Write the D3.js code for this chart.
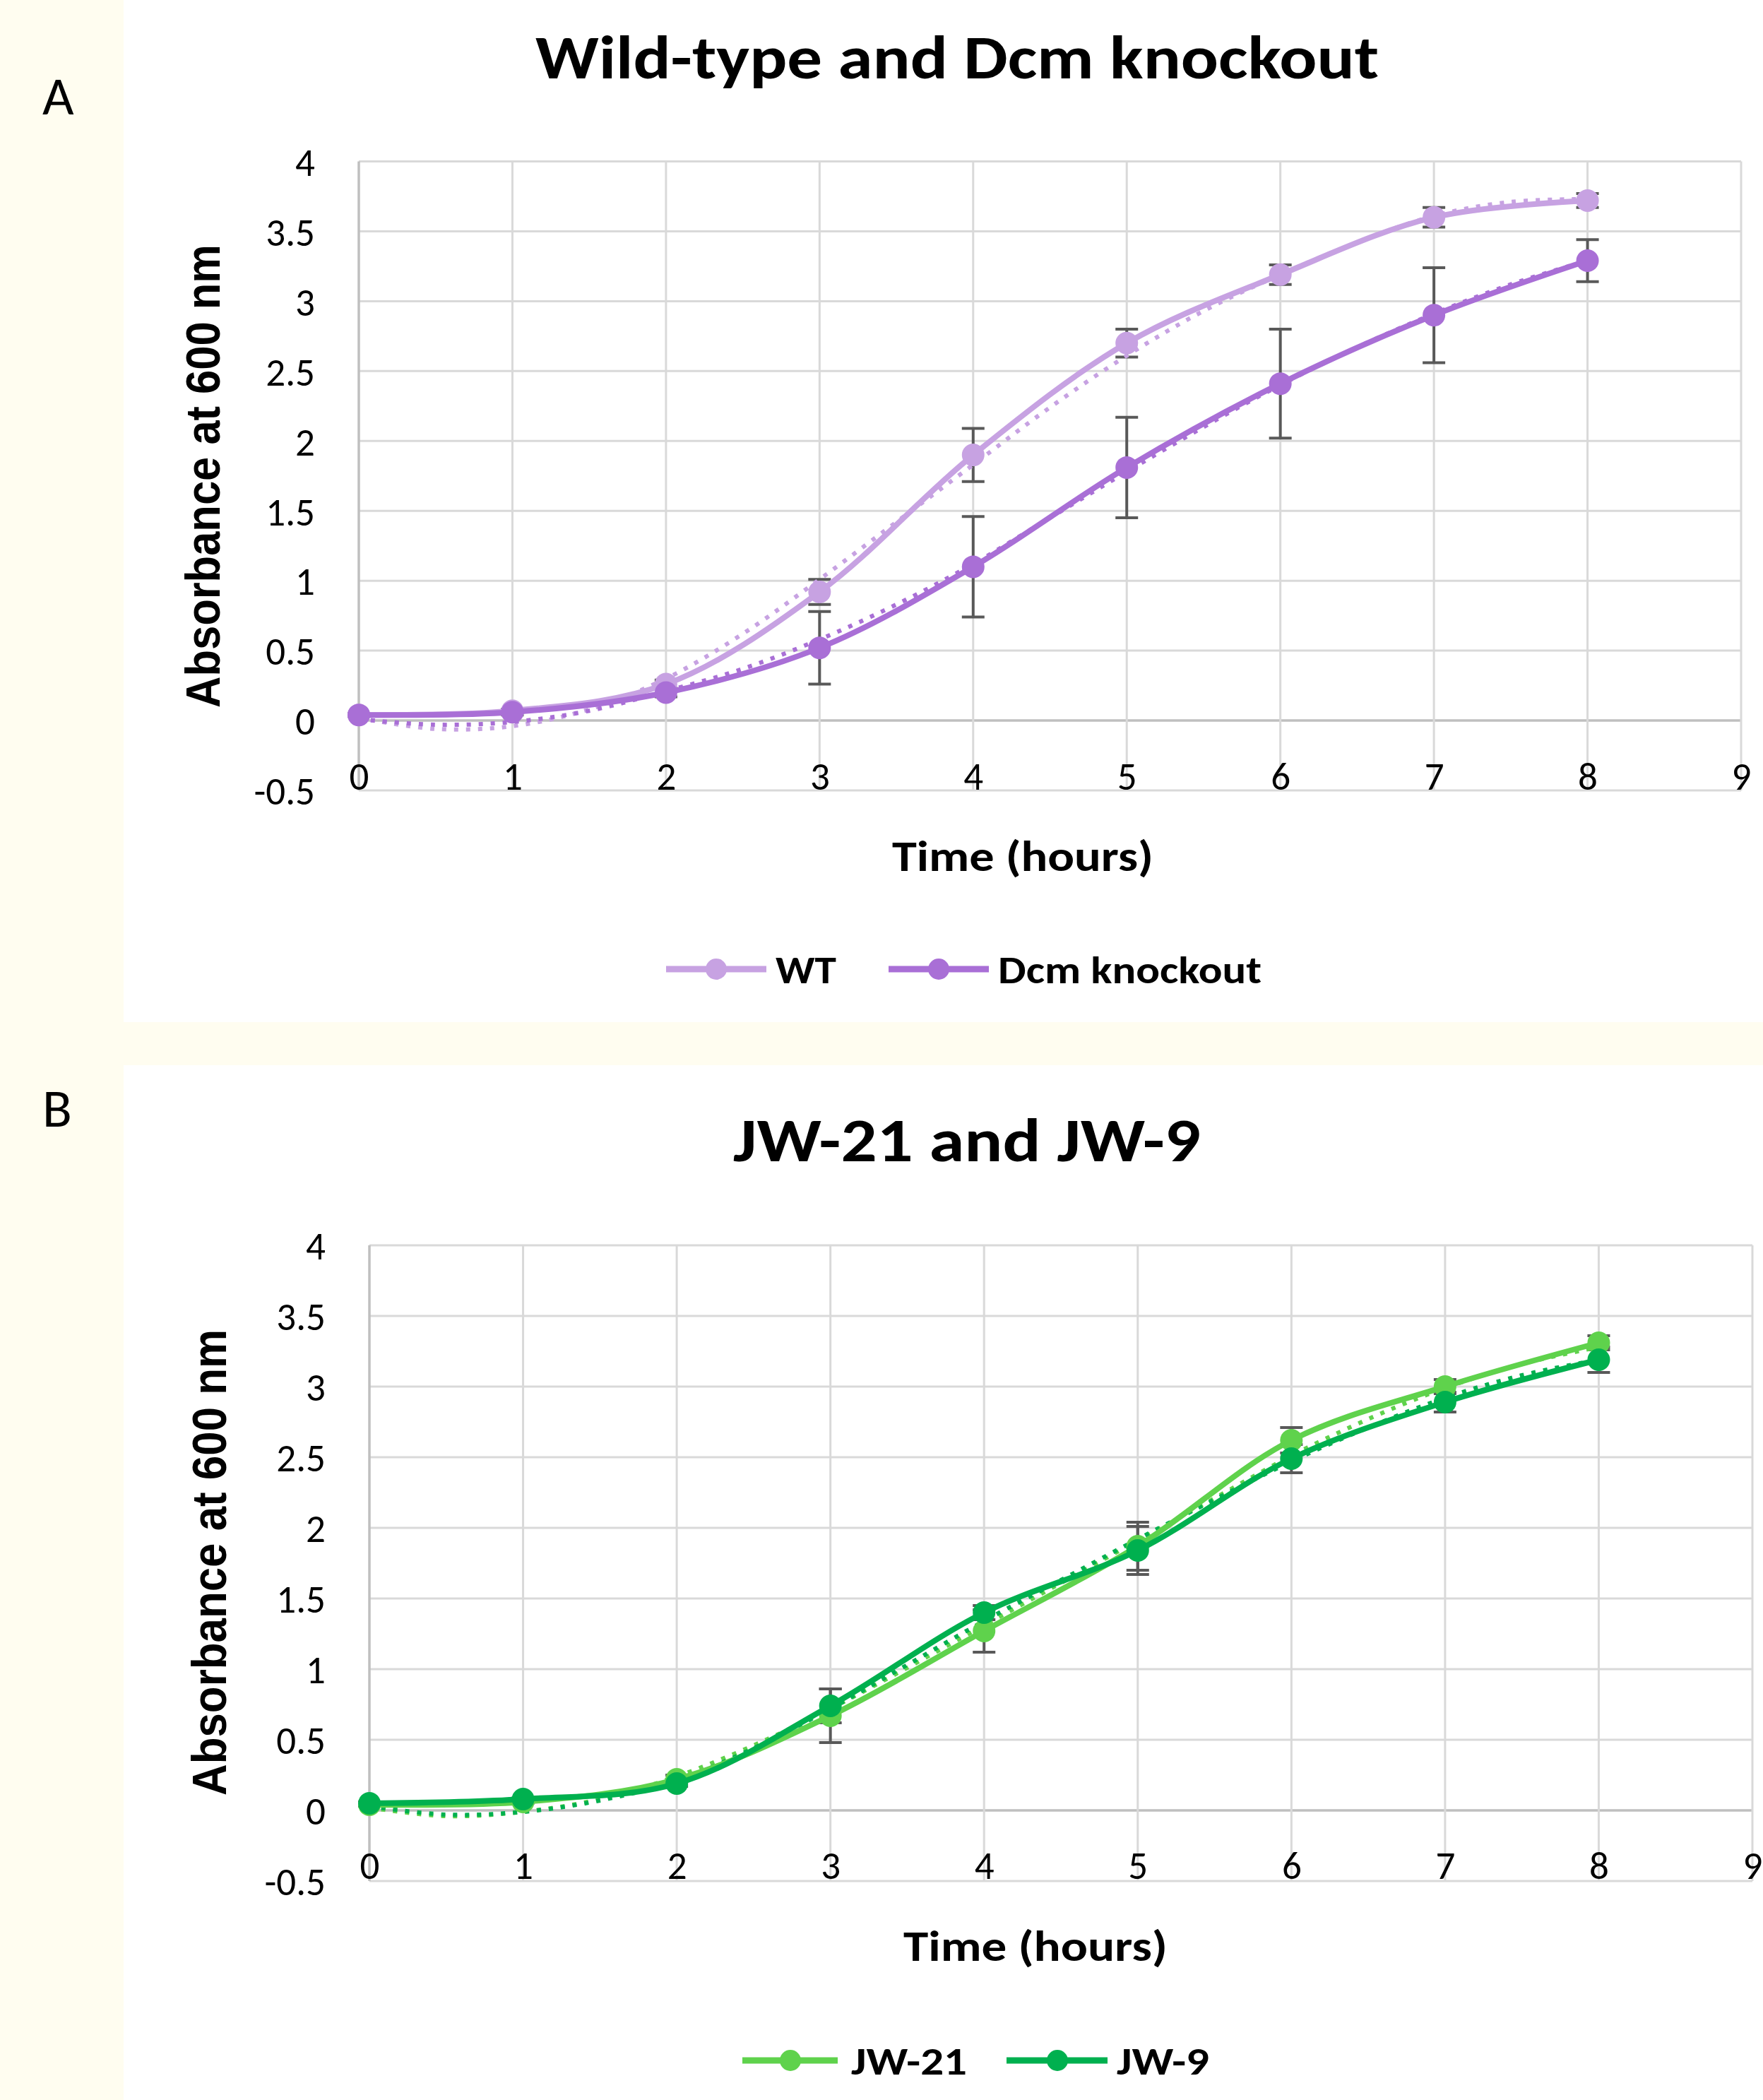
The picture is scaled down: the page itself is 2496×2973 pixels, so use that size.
<!DOCTYPE html>
<html><head><meta charset="utf-8">
<script src="https://cdn.jsdelivr.net/npm/d3@7"></script>
<style>html,body{margin:0;padding:0;background:#FFFDF0;} svg{display:block;}</style>
</head><body>
<svg id="chart" width="2496" height="2973"></svg>
<script>
// ---------------- DATA ----------------
const hours = [0, 1, 2, 3, 4, 5, 6, 7, 8];
const trendHours = [0, 0.5, 1, 1.5, 2, 2.5, 3, 3.5, 4, 4.5, 5, 5.5, 6, 6.5, 7, 7.5, 8];
const xTickValues = [0, 1, 2, 3, 4, 5, 6, 7, 8, 9];
const yTickValues = [-0.5, 0, 0.5, 1, 1.5, 2, 2.5, 3, 3.5, 4];

const panelLetters = ["A", "B"];
const panelTitles = ["Wild-type and Dcm knockout", "JW-21 and JW-9"];
const yAxisTitle = "Absorbance at 600 nm";
const xAxisTitle = "Time (hours)";
const seriesNamesA = ["WT", "Dcm knockout"];
const seriesNamesB = ["JW-21", "JW-9"];

const wtValues  = [0.04, 0.07, 0.26, 0.92, 1.90, 2.70, 3.19, 3.60, 3.72];
const wtErrors  = [0.01, 0.01, 0.03, 0.09, 0.19, 0.10, 0.07, 0.07, 0.05];
const wtTrend   = [0.02, -0.06, -0.04, 0.08, 0.30, 0.62, 1.01, 1.42, 1.83, 2.24, 2.61, 2.93, 3.19, 3.42, 3.61, 3.71, 3.73];

const dcmValues = [0.04, 0.06, 0.20, 0.52, 1.10, 1.81, 2.41, 2.90, 3.29];
const dcmErrors = [0.01, 0.02, 0.03, 0.26, 0.36, 0.36, 0.39, 0.34, 0.15];
const dcmTrend  = [0.01, -0.03, -0.01, 0.07, 0.21, 0.37, 0.58, 0.83, 1.12, 1.45, 1.78, 2.10, 2.40, 2.67, 2.91, 3.12, 3.29];

const jw21Values = [0.04, 0.06, 0.22, 0.67, 1.27, 1.87, 2.62, 3.00, 3.31];
const jw21Errors = [0.01, 0.01, 0.03, 0.19, 0.15, 0.17, 0.09, 0.05, 0.05];
const jw21Trend  = [0.02, -0.04, -0.01, 0.08, 0.24, 0.46, 0.72, 1.01, 1.31, 1.61, 1.91, 2.21, 2.51, 2.77, 2.99, 3.16, 3.28];

const jw9Values = [0.05, 0.08, 0.19, 0.74, 1.40, 1.84, 2.49, 2.89, 3.19];
const jw9Errors = [0.01, 0.01, 0.02, 0.12, 0.05, 0.17, 0.10, 0.07, 0.09];
const jw9Trend  = [0.03, -0.03, -0.01, 0.07, 0.21, 0.44, 0.72, 1.03, 1.34, 1.63, 1.92, 2.20, 2.47, 2.71, 2.92, 3.08, 3.19];

// ---------------- STYLE / LAYOUT ----------------
const FONT = "Carlito, Lato, 'Open Sans', sans-serif";
const LABEL_FONT = "'Liberation Sans', Arial, sans-serif";
const colors = { wt: "#C7A2E2", dcm: "#A96FD6", jw21: "#5FD24C", jw9: "#00B04F" };

const svg = d3.select("#chart");
svg.append("rect").attr("x", 0).attr("y", 0).attr("width", 2496).attr("height", 2973).attr("fill", "#FFFDF0");
svg.append("rect").attr("x", 175).attr("y", 0).attr("width", 2321).attr("height", 1447).attr("fill", "#FFFFFF");
svg.append("rect").attr("x", 175).attr("y", 1508).attr("width", 2321).attr("height", 1465).attr("fill", "#FFFFFF");

const panels = [
  {
    letter: panelLetters[0], letterX: 60, letterY: 162,
    title: panelTitles[0], titleX: 1355, titleY: 111, titleW: 1194,
    x0: 508, x9: 2465, yTop: 228.5, yBot: 1119,
    yLabX: 311, yLabY: 674, yLabW: 656,
    yTickX: 446, xTickY: 1118,
    xTitleX: 1448, xTitleY: 1233, xTitleW: 370,
    legendY: 1372,
    legend: [
      { lx1: 943, lx2: 1085, mx: 1014, tx: 1098, tw: 86 },
      { lx1: 1258, lx2: 1400, mx: 1329, tx: 1413, tw: 373 }
    ],
    series: [
      { name: seriesNamesA[0], values: wtValues, errors: wtErrors, trend: wtTrend, color: colors.wt },
      { name: seriesNamesA[1], values: dcmValues, errors: dcmErrors, trend: dcmTrend, color: colors.dcm }
    ]
  },
  {
    letter: panelLetters[1], letterX: 60, letterY: 1595,
    title: panelTitles[1], titleX: 1369, titleY: 1644, titleW: 662,
    x0: 523, x9: 2481, yTop: 1763, yBot: 2663,
    yLabX: 320, yLabY: 2212, yLabW: 660,
    yTickX: 461, xTickY: 2660,
    xTitleX: 1466, xTitleY: 2776, xTitleW: 374,
    legendY: 2917,
    legend: [
      { lx1: 1051, lx2: 1186, mx: 1119, tx: 1205, tw: 164 },
      { lx1: 1425, lx2: 1568, mx: 1497, tx: 1581, tw: 131 }
    ],
    series: [
      { name: seriesNamesB[0], values: jw21Values, errors: jw21Errors, trend: jw21Trend, color: colors.jw21 },
      { name: seriesNamesB[1], values: jw9Values, errors: jw9Errors, trend: jw9Trend, color: colors.jw9 }
    ]
  }
];

function drawPanel(p) {
  const g = svg.append("g");
  const x = d3.scaleLinear().domain([0, 9]).range([p.x0, p.x9]);
  const y = d3.scaleLinear().domain([-0.5, 4]).range([p.yBot, p.yTop]);

  g.append("text").attr("x", p.letterX).attr("y", p.letterY)
    .attr("font-family", FONT).attr("font-size", 77).attr("fill", "#000").text(p.letter);

  g.append("text").attr("x", p.titleX).attr("y", p.titleY).attr("text-anchor", "middle")
    .attr("font-family", FONT).attr("font-weight", "bold").attr("font-size", 87).attr("fill", "#000")
    .attr("textLength", p.titleW).attr("lengthAdjust", "spacingAndGlyphs").text(p.title);

  g.append("g").selectAll("line").data(yTickValues).join("line")
    .attr("x1", x(0)).attr("x2", x(9)).attr("y1", d => y(d)).attr("y2", d => y(d))
    .attr("stroke", d => d === 0 ? "#BFBFBF" : "#D9D9D9").attr("stroke-width", d => d === 0 ? 3.5 : 3);
  g.append("g").selectAll("line").data(xTickValues).join("line")
    .attr("x1", d => x(d)).attr("x2", d => x(d)).attr("y1", y(4)).attr("y2", y(-0.5))
    .attr("stroke", d => d === 0 ? "#BFBFBF" : "#D9D9D9").attr("stroke-width", d => d === 0 ? 3.5 : 3);

  const yAxis = d3.axisLeft(y).tickValues(yTickValues).tickSize(0).tickFormat(d => String(d));
  const ya = g.append("g").attr("transform", `translate(${p.yTickX},0)`).call(yAxis);
  ya.select(".domain").remove();
  ya.selectAll("text").attr("x", 0).attr("dy", "0.36em")
    .attr("font-family", FONT).attr("font-size", 55).attr("fill", "#000");

  const xAxis = d3.axisBottom(x).tickValues(xTickValues).tickSize(0).tickFormat(d => String(d));
  const xa = g.append("g").attr("transform", `translate(0,${p.xTickY})`).call(xAxis);
  xa.select(".domain").remove();
  xa.selectAll("text").attr("y", 0).attr("dy", null)
    .attr("font-family", FONT).attr("font-size", 55).attr("fill", "#000");

  g.append("text").attr("transform", `translate(${p.yLabX},${p.yLabY}) rotate(-90)`)
    .attr("text-anchor", "middle").attr("font-family", LABEL_FONT).attr("font-weight", "bold")
    .attr("font-size", 68).attr("fill", "#000")
    .attr("textLength", p.yLabW).attr("lengthAdjust", "spacingAndGlyphs").text(yAxisTitle);
  g.append("text").attr("x", p.xTitleX).attr("y", p.xTitleY).attr("text-anchor", "middle")
    .attr("font-family", FONT).attr("font-weight", "bold").attr("font-size", 61).attr("fill", "#000")
    .attr("textLength", p.xTitleW).attr("lengthAdjust", "spacingAndGlyphs").text(xAxisTitle);

  const capHalf = 16;
  p.series.forEach(s => {
    const eb = g.append("g");
    const pts = hours.map((h, i) => ({ h, v: s.values[i], e: s.errors[i] }));
    eb.append("g").selectAll("line").data(pts).join("line")
      .attr("x1", d => x(d.h)).attr("x2", d => x(d.h))
      .attr("y1", d => y(d.v + d.e)).attr("y2", d => y(d.v - d.e))
      .attr("stroke", "#595959").attr("stroke-width", 4);
    eb.append("g").selectAll("line").data(pts).join("line")
      .attr("x1", d => x(d.h) - capHalf).attr("x2", d => x(d.h) + capHalf)
      .attr("y1", d => y(d.v + d.e)).attr("y2", d => y(d.v + d.e))
      .attr("stroke", "#595959").attr("stroke-width", 4);
    eb.append("g").selectAll("line").data(pts).join("line")
      .attr("x1", d => x(d.h) - capHalf).attr("x2", d => x(d.h) + capHalf)
      .attr("y1", d => y(d.v - d.e)).attr("y2", d => y(d.v - d.e))
      .attr("stroke", "#595959").attr("stroke-width", 4);
  });

  const trendLine = d3.line().x((d, i) => x(trendHours[i])).y(d => y(d)).curve(d3.curveCatmullRom);
  p.series.forEach(s => {
    g.append("path").attr("d", trendLine(s.trend)).attr("fill", "none")
      .attr("stroke", s.color).attr("stroke-width", 6).attr("stroke-dasharray", "6 11");
  });

  const valLine = d3.line().x((d, i) => x(hours[i])).y(d => y(d)).curve(d3.curveCatmullRom);
  p.series.forEach(s => {
    g.append("path").attr("d", valLine(s.values)).attr("fill", "none")
      .attr("stroke", s.color).attr("stroke-width", 8).attr("stroke-linejoin", "round");
    g.append("g").selectAll("circle").data(s.values).join("circle")
      .attr("cx", (d, i) => x(hours[i])).attr("cy", d => y(d)).attr("r", 16).attr("fill", s.color);
  });

  p.series.forEach((s, i) => {
    const L = p.legend[i];
    g.append("line").attr("x1", L.lx1).attr("x2", L.lx2).attr("y1", p.legendY).attr("y2", p.legendY)
      .attr("stroke", s.color).attr("stroke-width", 9);
    g.append("circle").attr("cx", L.mx).attr("cy", p.legendY).attr("r", 15).attr("fill", s.color);
    g.append("text").attr("x", L.tx).attr("y", p.legendY + 20)
      .attr("font-family", FONT).attr("font-weight", "bold").attr("font-size", 54).attr("fill", "#000")
      .attr("textLength", L.tw).attr("lengthAdjust", "spacingAndGlyphs").text(s.name);
  });
}

panels.forEach(drawPanel);
</script>
</body></html>
